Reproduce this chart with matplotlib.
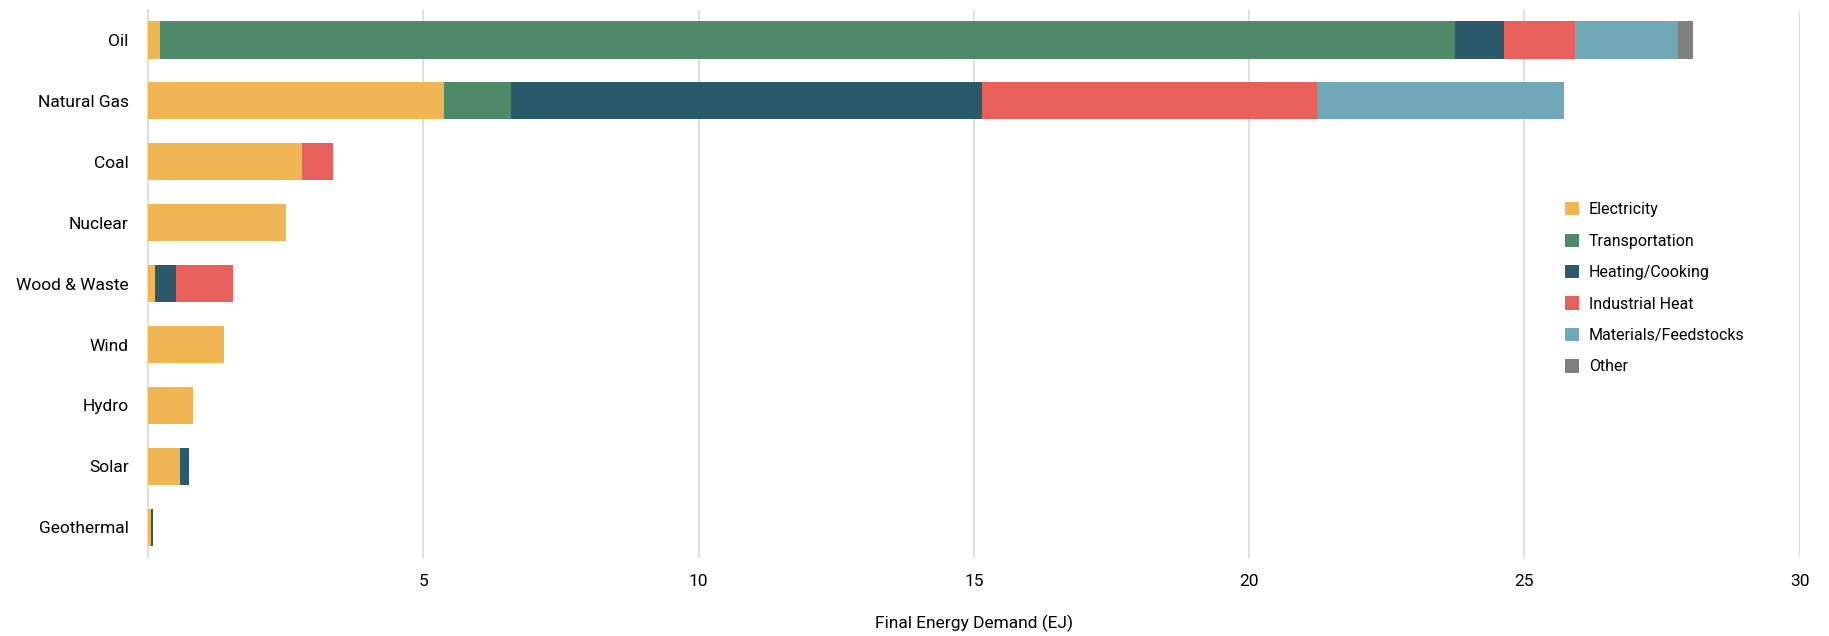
import matplotlib.pyplot as plt
import numpy as np

plt.rcParams['font.family'] = ['Liberation Sans Narrow', 'Roboto', 'DejaVu Sans']

# Energy sources (top to bottom)
sources = ["Oil", "Natural Gas", "Coal", "Nuclear", "Wood & Waste",
           "Wind", "Hydro", "Solar", "Geothermal"]

# End uses, EJ per source
electricity = [0.21, 5.37, 2.80, 2.50, 0.13, 1.37, 0.82, 0.58, 0.05]
transportation = [23.52, 1.23, 0.0, 0.0, 0.0, 0.0, 0.0, 0.0, 0.0]
heating = [0.89, 8.55, 0.0, 0.0, 0.38, 0.0, 0.0, 0.17, 0.04]
industrial = [1.29, 6.08, 0.55, 0.0, 1.04, 0.0, 0.0, 0.0, 0.0]
materials = [1.87, 4.49, 0.0, 0.0, 0.0, 0.0, 0.0, 0.0, 0.0]
other = [0.28, 0.0, 0.0, 0.0, 0.0, 0.0, 0.0, 0.0, 0.0]

series = [
    ("Electricity", electricity, "#F0B654"),
    ("Transportation", transportation, "#4E8A6A"),
    ("Heating/Cooking", heating, "#2C5A6B"),
    ("Industrial Heat", industrial, "#E8605C"),
    ("Materials/Feedstocks", materials, "#71A8B7"),
    ("Other", other, "#808080"),
]

fig, ax = plt.subplots(figsize=(18.29, 6.36), dpi=100)
fig.subplots_adjust(left=0.081, right=0.984, top=0.985, bottom=0.123)

y = np.arange(len(sources))
left = np.zeros(len(sources))
for name, vals, color in series:
    vals = np.array(vals)
    ax.barh(y, vals, left=left, height=0.61, color=color, label=name, zorder=3)
    left += vals

ax.set_yticks(y)
ax.set_yticklabels(sources, fontsize=12.5)
ax.set_ylim(len(sources) - 0.5, -0.5)

ax.set_xlim(0, 30)
ax.set_xticks([5, 10, 15, 20, 25, 30])
ax.set_xticklabels(["5", "10", "15", "20", "25", "30"], fontsize=12.5)
ax.tick_params(axis='both', length=0)
ax.tick_params(axis='x', pad=12)
ax.tick_params(axis='y', pad=14)
ax.grid(axis='x', color="#dcdcdc", linewidth=1.3, zorder=0)

for side in ["top", "right", "bottom"]:
    ax.spines[side].set_visible(False)
ax.spines["left"].set_color("#dcdcdc")
ax.spines["left"].set_linewidth(1.3)

ax.set_xlabel("Final Energy Demand (EJ)", fontsize=12.5, labelpad=18)

ax.legend(loc="upper left", bbox_to_anchor=(0.849, 0.675), frameon=False,
          fontsize=11.5, handlelength=0.9, handleheight=0.9,
          handletextpad=0.6, labelspacing=1.02)

plt.savefig("out.png", dpi=100)
